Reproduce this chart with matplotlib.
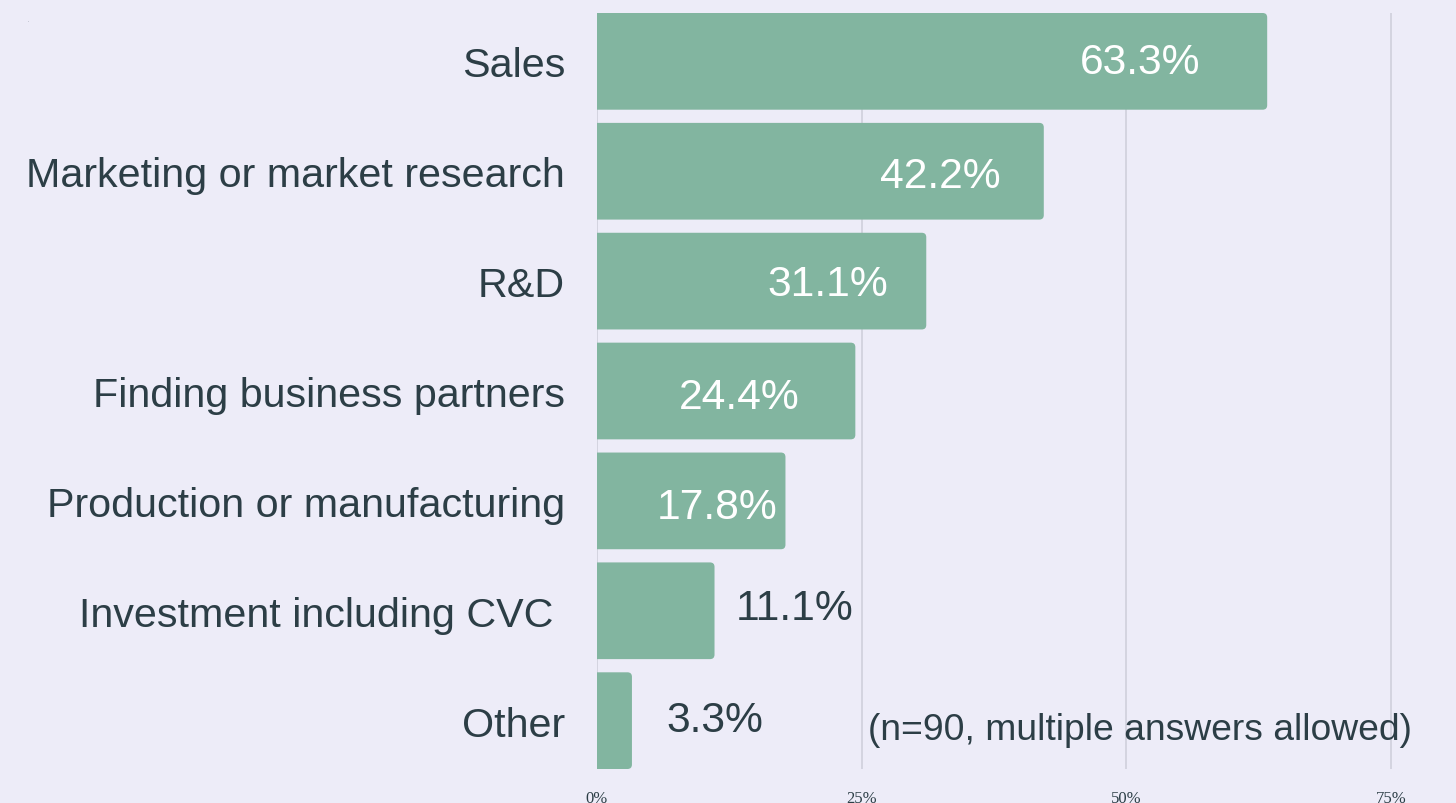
import matplotlib
matplotlib.use("Agg")
import matplotlib.pyplot as plt
from matplotlib.patches import FancyBboxPatch

categories = ["Sales", "Marketing or market research", "R&D",
              "Finding business partners", "Production or manufacturing",
              "Investment including CVC ", "Other"]
values = [63.3, 42.2, 31.1, 24.4, 17.8, 11.1, 3.3]
value_labels = ["63.3%", "42.2%", "31.1%", "24.4%", "17.8%", "11.1%", "3.3%"]
tick_values = [0, 25, 50, 75]
tick_labels = ["0%", "25%", "50%", "75%"]
note = "(n=90, multiple answers allowed)"

# label placement (style): offset from bar end in data units, inside flag
label_offsets = [-12.0, -9.8, -9.3, -11.0, -6.5, 7.6, 7.8]
label_inside = [True, True, True, True, True, False, False]
label_dy = [0.005, 0.045, 0.025, 0.055, 0.055, -0.025, -0.005]

BG = "#edecf8"
BAR = "#82b5a0"
TXT = "#2c3e46"
GRID = "#cfd0dc"

fig = plt.figure(figsize=(14.56, 8.04), dpi=100, facecolor=BG)
ax = fig.add_axes([597/1456, 1-770/804, (1444-597)/1456, (770-14)/804])
ax.set_facecolor(BG)
for s in ax.spines.values():
    s.set_visible(False)

ys = list(range(len(categories)))
bars = ax.barh(ys, values, height=0.88, color=BAR, zorder=2)
ax.set_xlim(0, 80)
ax.set_ylim(len(categories) - 1 + 0.44, -0.44)

# replace with rounded-corner patches
px_x = (1444 - 597) / 80.0
px_y = (770 - 14) / (len(categories) - 1 + 0.88)
r = 4.5
for b in bars:
    x0, y0 = b.get_x(), b.get_y()
    w, h = b.get_width(), b.get_height()
    b.set_visible(False)
    p = FancyBboxPatch((x0 - 2, y0), w + 2, h,
                       boxstyle=f"round,pad=0,rounding_size={r/px_x}",
                       mutation_aspect=px_x/px_y,
                       facecolor=BAR, edgecolor="none", zorder=2, clip_on=True)
    ax.add_patch(p)

ax.set_xticks(tick_values)
ax.set_xticklabels(tick_labels, family="Liberation Serif", fontsize=12, color=TXT)
ax.tick_params(axis="x", length=0, pad=15)
ax.xaxis.grid(True, color=GRID, linewidth=1.2, zorder=0)
ax.set_axisbelow(True)

ax.set_yticks(ys)
ax.set_yticklabels(categories, family="Liberation Sans", fontsize=29.7, color=TXT)
ax.tick_params(axis="y", length=0, pad=23)

for i, v in enumerate(values):
    c = "white" if label_inside[i] else TXT
    ax.text(v + label_offsets[i], ys[i] + label_dy[i], value_labels[i],
            ha="center", va="center", fontsize=30.7, family="Liberation Sans",
            color=c, zorder=3)

ax.text(868/1456, 1-731/804, note, transform=fig.transFigure, ha="left",
        va="center", fontsize=26.8, family="Liberation Sans", color=TXT, zorder=3)
fig.text(28/1456, 1-22/804, ".", fontsize=3, color=TXT)

fig.savefig("out.png", dpi=100, facecolor=BG)
